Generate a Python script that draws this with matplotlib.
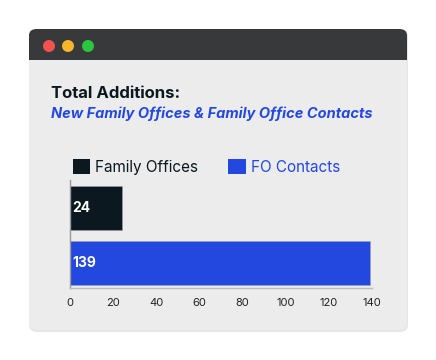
import matplotlib.pyplot as plt
from matplotlib.patches import FancyBboxPatch, Circle, Patch

categories = ["Family Offices", "FO Contacts"]
values = [24, 139]
bar_colors = ["#0c1820", "#2348df"]
label_colors = ["#0c1820", "#2348df"]
xticks = [0, 20, 40, 60, 80, 100, 120, 140]

W, H = 436, 360
fig = plt.figure(figsize=(W / 100, H / 100), dpi=100)
fig.patch.set_facecolor("white")
plt.rcParams['font.family'] = ['Inter', 'DejaVu Sans']


def fx(px):
    return px / W


def fy(py):
    return 1 - py / H


# window frame with soft shadow
shadow = FancyBboxPatch((fx(29), fy(332)), fx(379), (332 - 29) / H,
                        boxstyle="round,pad=0,rounding_size=0.02",
                        transform=fig.transFigure, facecolor="#e6e6e6",
                        edgecolor="none", zorder=0)
fig.patches.append(shadow)
body = FancyBboxPatch((fx(29), fy(330)), fx(378), (330 - 29) / H,
                      boxstyle="round,pad=0,rounding_size=0.018",
                      transform=fig.transFigure, facecolor="#ececec",
                      edgecolor="none", zorder=1)
fig.patches.append(body)
bar_top = FancyBboxPatch((fx(29), fy(60)), fx(378), (60 - 29) / H,
                         boxstyle="round,pad=0,rounding_size=0.018",
                         transform=fig.transFigure, facecolor="#38393b",
                         edgecolor="none", zorder=2)
fig.patches.append(bar_top)
# square off bottom of the title bar
fig.patches.append(plt.Rectangle((fx(29), fy(60)), fx(378), 12 / H,
                                 transform=fig.transFigure, facecolor="#38393b",
                                 edgecolor="none", zorder=2))

for cx, c in [(49, "#f0524e"), (68, "#f6b52b"), (88, "#2ac640")]:
    fig.patches.append(Circle((cx, H - 46), 6, transform=None,
                              facecolor=c, edgecolor="none", zorder=3))

fig.text(fx(51), fy(93), "Total Additions:", fontsize=12, fontweight="bold",
         color="#0c1820", va="center", ha="left", zorder=4)
fig.text(fx(51), fy(114), "New Family Offices & Family Office Contacts",
         fontsize=10.5, fontweight="bold", style="italic", color="#2348df",
         va="center", ha="left", zorder=4)

ax = fig.add_axes([fx(70), fy(288), fx(372 - 70), (288 - 180) / H], zorder=5)
ax.patch.set_alpha(0)
ypos = list(range(len(values)))
ax.barh(ypos, values, height=0.8, color=bar_colors, edgecolor="#9aa0b0",
        linewidth=0.4)
for y, v in zip(ypos, values):
    ax.text(1.2, y, str(v), color="white", fontweight="bold", fontsize=10,
            va="center", ha="left")

ax.set_xlim(0, 140)
ax.set_ylim(1.455, -0.509)
ax.set_xticks(xticks)
ax.set_yticks([])
ax.tick_params(axis="x", length=0, labelsize=8, colors="#222222", pad=7)
for s in ["top", "right"]:
    ax.spines[s].set_visible(False)
ax.spines["left"].set_color("#999999")
ax.spines["bottom"].set_color("#bbbbbb")
ax.spines["left"].set_linewidth(1)
ax.spines["bottom"].set_linewidth(1)

handles = [Patch(facecolor=c, edgecolor="none") for c in bar_colors]
leg = fig.legend(handles, categories, loc="center left",
                 bbox_to_anchor=(fx(59), fy(167)), ncol=2, frameon=False,
                 fontsize=11, handlelength=1.15, handleheight=1.15,
                 handletextpad=0.3, columnspacing=2.0,
                 labelcolor=label_colors)
leg.set_zorder(6)

fig.savefig("out.png", dpi=100)
